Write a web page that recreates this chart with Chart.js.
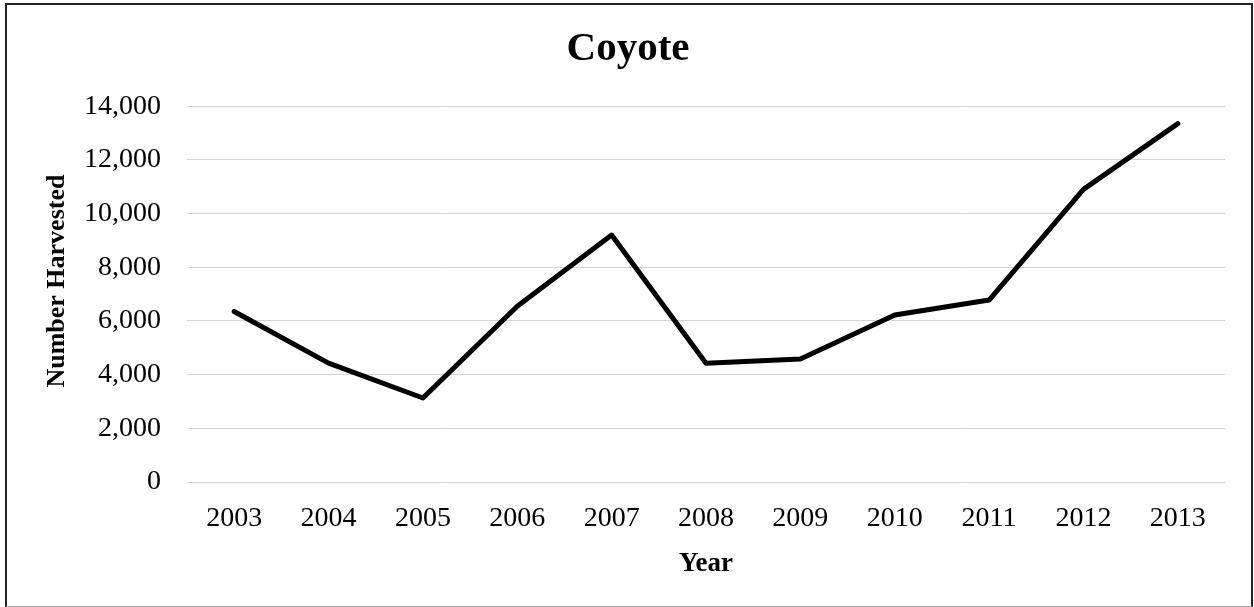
<!DOCTYPE html>
<html>
<head>
<meta charset="utf-8">
<title>Coyote</title>
<script src="https://cdn.jsdelivr.net/npm/chart.js"></script>
<style>
html, body { margin: 0; padding: 0; background: #fff; }
#wrap { position: relative; width: 1254px; height: 607px; }
#frame {
  position: absolute; left: 5px; top: 3px; width: 1248px; height: 604px;
  box-sizing: border-box; border: 2px solid #222; border-bottom: 1px solid #aaa;
  pointer-events: none;
}
</style>
</head>
<body>
<div id="wrap">
  <canvas id="coyoteChart" width="1254" height="607"></canvas>
  <div id="frame"></div>
</div>
<script>
// data
const years = ["2003", "2004", "2005", "2006", "2007", "2008", "2009", "2010", "2011", "2012", "2013"];
const harvested = [6350, 4430, 3130, 6550, 9200, 4420, 4580, 6220, 6780, 10900, 13350];
const yTicks = [0, 2000, 4000, 6000, 8000, 10000, 12000, 14000];

const serif = "'Liberation Serif', 'Times New Roman', serif";

function renderChart() {
new Chart(document.getElementById("coyoteChart"), {
type: "line",
data: {
labels: years,
datasets: [{
label: "Coyote",
data: harvested,
borderColor: "#000",
borderWidth: 5,
borderCapStyle: "round",
borderJoinStyle: "round",
pointRadius: 0,
tension: 0
}]
},
options: {
responsive: false,
animation: false,
// left pad keeps the title centred where the original has it
layout: { padding: { top: 25, left: 31, right: 29, bottom: 0 } },
plugins: {
legend: { display: false },
tooltip: { enabled: false },
title: {
display: true,
text: "Coyote",
color: "#000",
font: { family: serif, size: 41, weight: "bold", lineHeight: 1.2 },
padding: { top: 0, bottom: 32 }
}
},
scales: {
x: {
offset: true,
grid: { display: false },
border: { display: false },
ticks: { color: "#000", padding: 12, font: { family: serif, size: 28 } },
title: {
display: true,
text: "Year",
color: "#000",
font: { family: serif, size: 27, weight: "bold", lineHeight: 1.2 },
padding: { top: 0, bottom: 27 }
},
afterFit: s => { s.height = 125; }
},
y: {
min: yTicks[0],
max: yTicks[yTicks.length - 1],
afterBuildTicks: s => { s.ticks = yTicks.map(v => ({ value: v })); },
grid: { color: "#d4d4d4", lineWidth: 1, drawTicks: false },
border: { display: false },
ticks: {
color: "#000",
padding: 26,
font: { family: serif, size: 28 },
callback: v => v.toLocaleString("en-US")
},
title: {
display: true,
text: "    Number Harvested",
color: "#000",
font: { family: serif, size: 26, weight: "bold", lineHeight: 1.2 },
padding: { top: 11, bottom: 0 }
},
afterFit: s => { s.width = 156; }
}
}
}
});
}

renderChart();
</script>
</body>
</html>
